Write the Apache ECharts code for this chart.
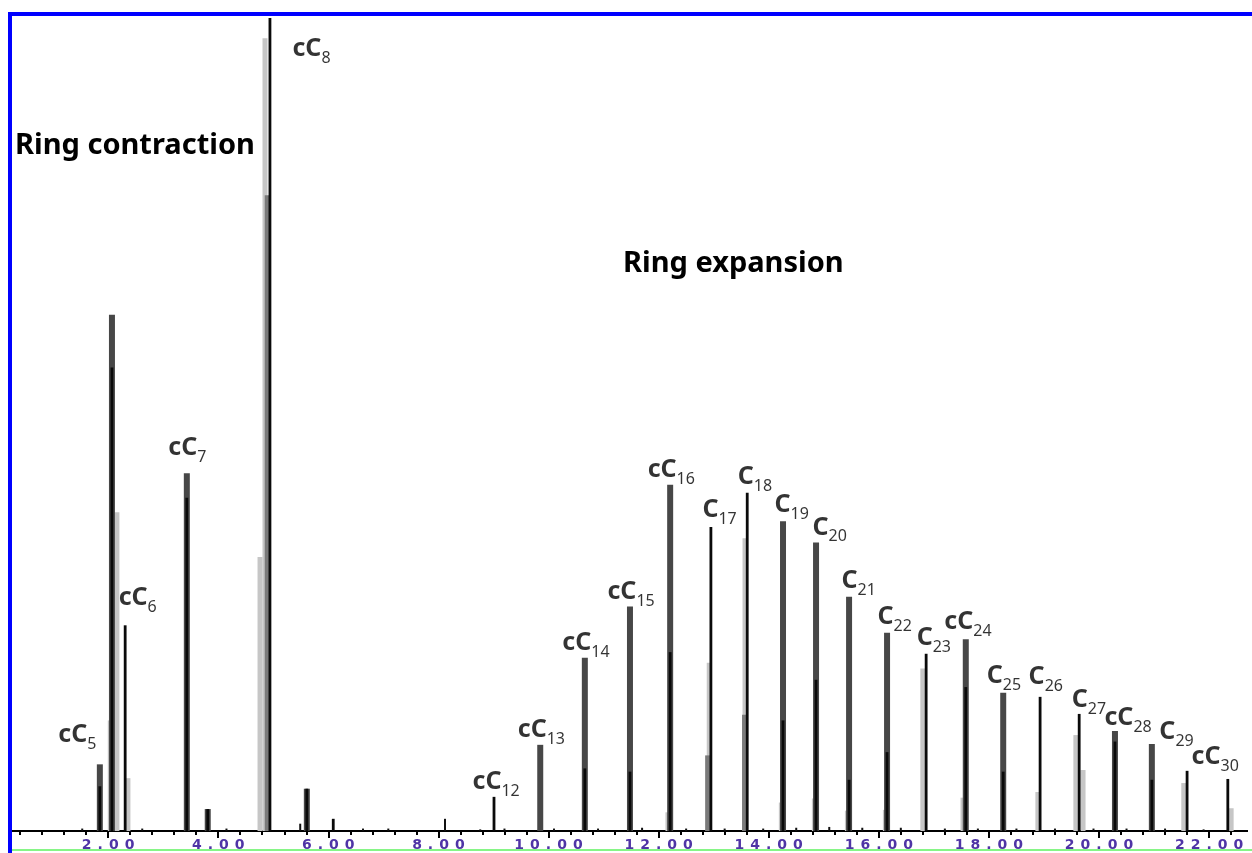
<!DOCTYPE html>
<html>
<head>
<meta charset="utf-8">
<script src="https://cdn.jsdelivr.net/npm/echarts@6/dist/echarts.min.js"></script>
<style>
  html, body { margin: 0; padding: 0; background: #ffffff; }
  #chart { width: 1252px; height: 853px; }
</style>
</head>
<body>
<div id="chart"></div>
<script>
// Retention time (min) of each resolved peak
const peakTimes = [1.85, 2.07, 2.31, 3.43, 3.81, 4.94, 5.61, 6.09, 9.01, 9.85, 10.66, 11.48, 12.21, 12.95,
  13.61, 14.26, 14.86, 15.46, 16.15, 16.86, 17.58, 18.26, 18.93, 19.64, 20.29, 20.96, 21.60, 22.34];
// Apex abundance (% of the largest peak)
const peakHeights = [8.2, 63.5, 25.3, 44.0, 2.7, 100, 5.2, 1.5, 4.2, 10.6, 21.3, 27.6, 42.6, 37.4,
  41.6, 38.1, 35.5, 28.8, 24.4, 21.8, 23.6, 17.0, 16.5, 14.4, 12.3, 10.7, 7.4, 6.4];
// Which trace carries the apex: A = broad grey trace, B = sharp black trace
const peakTrace = ['A', 'A', 'B', 'A', 'A', 'B', 'A', 'B', 'B', 'A', 'A', 'A', 'A', 'B',
  'B', 'A', 'A', 'A', 'A', 'B', 'A', 'A', 'B', 'B', 'A', 'A', 'B', 'B'];
// Black trace inside the grey peaks
const coreHeights = [5.5, 57, 0, 41, 2.7, 0, 5.2, 0, 0, 0, 7.7, 7.3, 22, 0,
  0, 13.6, 18.6, 6.3, 9.7, 0, 17.7, 7.3, 0, 0, 11, 6.3, 0, 0];
// Peak assignments
const peakNames = ['cC5', '', 'cC6', 'cC7', '', 'cC8', '', '', 'cC12', 'cC13', 'cC14', 'cC15', 'cC16', 'C17',
  'C18', 'C19', 'C20', 'C21', 'C22', 'C23', 'cC24', 'C25', 'C26', 'C27', 'cC28', 'C29', 'cC30', ''];

// Light grey overlay trace
const shoulderTimes = [2.04, 2.16, 2.36, 4.76, 4.85, 12.17, 12.92, 13.57, 14.23, 14.83, 15.43, 16.12,
  16.80, 17.53, 18.89, 19.58, 19.71, 21.54, 22.40];
const shoulderHeights = [13.6, 39.2, 6.5, 33.7, 97.5, 2.3, 20.7, 36.0, 3.5, 4.0, 2.5, 2.6,
  20.0, 4.1, 4.8, 11.8, 7.5, 5.9, 2.8];
// Medium grey overlay trace
const bandTimes = [4.90, 12.90, 13.57];
const bandHeights = [78.2, 9.3, 14.3];
// Baseline noise
const noiseTimes = [1.53, 2.62, 4.15, 5.49, 6.63, 7.09, 8.12, 8.76, 9.20, 10.10, 10.90, 11.70, 12.50, 13.20,
  13.90, 14.50, 15.10, 15.70, 16.40, 17.20, 17.80, 18.50, 19.20, 19.90, 20.50, 21.20, 21.90];
const noiseHeights = [0.3, 0.3, 0.3, 0.9, 0.3, 0.3, 1.5, 0.2, 0.3, 0.3, 0.3, 0.4, 0.3, 0.3,
  0.3, 0.4, 0.5, 0.4, 0.4, 0.3, 0.3, 0.3, 0.3, 0.3, 0.3, 0.3, 0.2];

// Label placement next to each apex, in pixels [dx, dy]
const labelOffsets = [[-41, -11], null, [-6, -9], [-18, -7], null, [23, 49], null, null,
  [-21, 3], [-22, 3], [-22, 3], [-22, 3], [-22, 3], [-8, 1], [-9, 2], [-8, 2], [-3, 3],
  [-7, 2], [-9, 2], [-9, 2], [-21, 1], [-16, 1], [-11, -2], [-7, 4], [-10, 5], [8, 6], [5, 4], null];

const xMin = 0, xMax = 24, xStep = 2;

function zip(ts, hs) { return ts.map((t, i) => [t, hs[i]]); }

function barSeries(name, points, width, color, z) {
  return {
    type: 'custom',
    name: name,
    data: points,
    z: z,
    silent: true,
    renderItem: function (params, api) {
      const x = api.value(0), y = api.value(1);
      const base = api.coord([x, 0]);
      const top = api.coord([x, y]);
      return {
        type: 'rect',
        shape: { x: base[0] - width / 2, y: top[1], width: width, height: base[1] - top[1] },
        style: { fill: color }
      };
    }
  };
}

const darkPoints = [], blackPoints = [];
peakTimes.forEach((t, i) => {
  if (peakTrace[i] === 'A') {
    darkPoints.push([t, peakHeights[i]]);
    if (coreHeights[i] > 0) blackPoints.push([t, coreHeights[i]]);
  } else {
    blackPoints.push([t, peakHeights[i]]);
  }
});
const thinPoints = zip(noiseTimes, noiseHeights);

const labelPoints = [];
peakTimes.forEach((t, i) => {
  if (!peakNames[i]) return;
  labelPoints.push({
    value: [t, peakHeights[i]],
    name: peakNames[i],
    label: { position: labelOffsets[i] }
  });
});

const chart = echarts.init(document.getElementById('chart'), null, { renderer: 'canvas' });

chart.setOption({
  animation: false,
  backgroundColor: '#ffffff',
  grid: { left: -2, width: 1321.2, top: 18, bottom: 22, outerBoundsMode: 'none', containLabel: false },
  xAxis: {
    type: 'value',
    min: xMin,
    max: xMax,
    interval: xStep,
    axisLine: { show: true, onZero: false, lineStyle: { color: '#000', width: 2 } },
    axisTick: { show: true, length: 7, lineStyle: { color: '#000', width: 2 } },
    minorTick: { show: true, splitNumber: 5, length: 4, lineStyle: { color: '#000', width: 2 } },
    splitLine: { show: false },
    axisLabel: {
      margin: 7,
      showMaxLabel: false,
      formatter: function (v) {
        if (v < 1 || v > 22.5) return '';
        return v.toFixed(2).split('').map(c => '{d|' + c + '}').join('');
      },
      rich: {
        d: {
          fontFamily: 'DejaVu Sans',
          fontWeight: 'bold',
          fontSize: 14,
          color: '#4f34a6',
          padding: [0, 3, 0, 3],
          textShadowColor: 'rgba(255,150,40,0.6)',
          textShadowOffsetY: -1,
          textShadowBlur: 0
        }
      }
    }
  },
  yAxis: { type: 'value', min: 0, max: 100, show: false },
  series: [
    barSeries('light', zip(shoulderTimes, shoulderHeights), 5, '#c6c6c6', 2),
    barSeries('band', zip(bandTimes, bandHeights), 6, '#7a7a7a', 3),
    barSeries('dark', darkPoints, 6, '#474747', 4),
    barSeries('black', blackPoints, 2.8, '#0a0a0a', 5),
    barSeries('noise', thinPoints, 2, '#111', 5),
    {
      type: 'scatter',
      name: 'names',
      data: labelPoints,
      symbolSize: 1,
      itemStyle: { color: 'rgba(0,0,0,0)' },
      silent: true,
      z: 10,
      label: {
        show: true,
        align: 'left',
        verticalAlign: 'bottom',
        formatter: function (p) {
          const m = p.name.match(/^([a-zA-Z]+)(\d+)$/);
          return '{m|' + m[1] + '}{s|' + m[2] + '}';
        },
        rich: {
          m: { fontFamily: 'Noto Sans', fontWeight: 'bold', fontSize: 25, color: '#000',
               verticalAlign: 'bottom', padding: [0, 0, 5, 0] },
          s: { fontFamily: 'Noto Sans', fontWeight: 'normal', fontSize: 16, color: '#000',
               verticalAlign: 'bottom' }
        }
      }
    }
  ],
  graphic: [
    { type: 'text', z: 50, style: { x: 15, y: 146, text: 'Ring contraction', verticalAlign: 'middle',
      font: 'bold 29px "Noto Sans"', fill: '#000' } },
    { type: 'text', z: 50, style: { x: 623, y: 264, text: 'Ring expansion', verticalAlign: 'middle',
      font: 'bold 29px "Noto Sans"', fill: '#000' } },
    { type: 'rect', z: 100, shape: { x: 0, y: 0, width: 8, height: 853 }, style: { fill: '#ffffff' } },
    { type: 'rect', z: 100, shape: { x: 1248, y: 820, width: 4, height: 26 }, style: { fill: '#ffffff' } },
    { type: 'rect', z: 101, shape: { x: 8, y: 12, width: 4, height: 841 }, style: { fill: '#0000ff' } },
    { type: 'rect', z: 101, shape: { x: 8, y: 12, width: 1244, height: 4 }, style: { fill: '#0000ff' } },
    { type: 'rect', z: 101, shape: { x: 12, y: 849, width: 1240, height: 2 }, style: { fill: '#86f586' } }
  ]
});
</script>
</body>
</html>
